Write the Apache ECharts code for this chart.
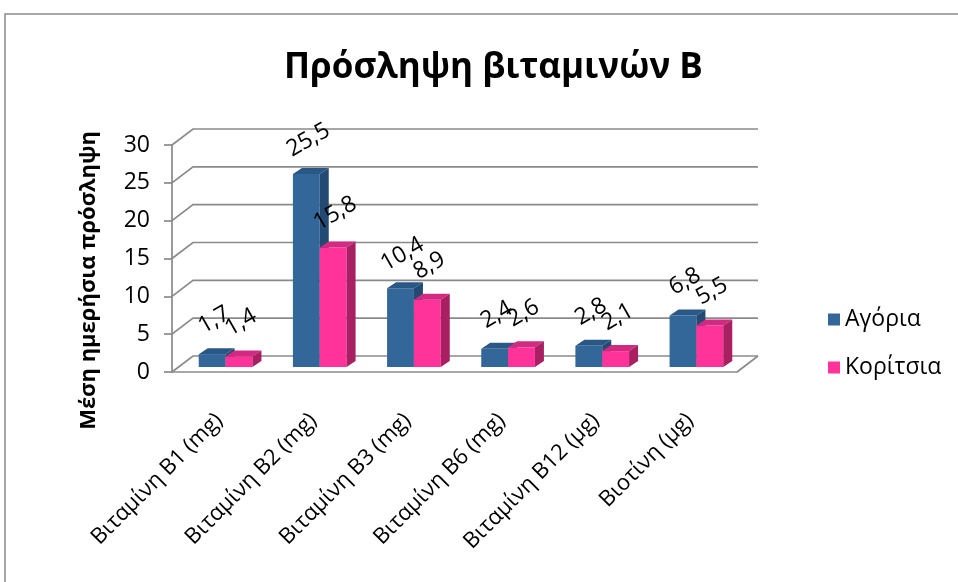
<!DOCTYPE html>
<html>
<head>
<meta charset="utf-8">
<script src="https://cdn.jsdelivr.net/npm/echarts@6/dist/echarts.min.js"></script>
<style>
  html, body { margin: 0; padding: 0; background: #fff; }
  #chart { width: 958px; height: 582px; }
</style>
</head>
<body>
<div id="chart"></div>
<script>
// Average daily intake of B vitamins, boys vs girls
const categories = ['Βιταμίνη B1 (mg)', 'Βιταμίνη B2 (mg)', 'Βιταμίνη B3 (mg)', 'Βιταμίνη B6 (mg)', 'Βιταμίνη B12 (μg)', 'Βιοτίνη (μg)'];
const boys = [1.7, 25.5, 10.4, 2.4, 2.8, 6.8];
const girls = [1.4, 15.8, 8.9, 2.6, 2.1, 5.5];
const seriesNames = ['Αγόρια', 'Κορίτσια'];
const yTicks = [0, 5, 10, 15, 20, 25, 30];

const FONT = '"Open Sans", "Noto Sans", sans-serif';

// pseudo-3D geometry (pixels)
const WALL_DX = 21, WALL_DY = -16;     // depth of the back wall
const BAR_DX = 6.5, BAR_DY = -5;       // bars sit a little behind the front edge
const DEPTH_DX = 9, DEPTH_DY = -6;     // bar thickness
const BAR_FRAC = 0.285;                // bar width as share of a category band
const GRID_COLOR = '#8a8a8a';

const palette = [
  { front: '#336699', top: '#2a5886', side: '#234a72' },
  { front: '#ff3399', top: '#d12a80', side: '#a81f62' }
];

function fmt(v) { return String(v).replace('.', ','); }

function wallRenderer(params, api) {
  const cs = params.coordSys;
  const v = api.value(1);
  const y = api.coord([0, v])[1];
  const x0 = cs.x, x1 = cs.x + cs.width;
  const children = [{
    type: 'polyline',
    shape: { points: [[x0, y], [x0 + WALL_DX, y + WALL_DY], [x1 + WALL_DX, y + WALL_DY]] },
    style: { stroke: GRID_COLOR, lineWidth: 1.7, fill: null }
  }];
  if (v === 0) {
    children.push({
      type: 'line',
      shape: { x1: x1, y1: y, x2: x1 + WALL_DX, y2: y + WALL_DY },
      style: { stroke: GRID_COLOR, lineWidth: 1.7 }
    });
  }
  return { type: 'group', children: children };
}

function barRenderer(k) {
  const c = palette[k];
  return function (params, api) {
    const idx = api.value(0), val = api.value(1);
    const base = api.coord([idx, 0]);
    const topP = api.coord([idx, val]);
    const band = api.size([1, 0])[0];
    const w = band * BAR_FRAC;
    const cx = base[0] + BAR_DX;
    const xa = k === 0 ? cx - w : cx;
    const xb = xa + w;
    const yb = base[1] + BAR_DY;
    const yt = topP[1] + BAR_DY;
    return {
      type: 'group',
      children: [
        { type: 'polygon', shape: { points: [[xa, yb], [xb, yb], [xb, yt], [xa, yt]] }, style: { fill: c.front } },
        { type: 'polygon', shape: { points: [[xa, yt], [xb, yt], [xb + DEPTH_DX, yt + DEPTH_DY], [xa + DEPTH_DX, yt + DEPTH_DY]] }, style: { fill: c.top } },
        { type: 'polygon', shape: { points: [[xb, yb], [xb + DEPTH_DX, yb + DEPTH_DY], [xb + DEPTH_DX, yt + DEPTH_DY], [xb, yt]] }, style: { fill: c.side } },
        {
          type: 'text', x: (xa + xb) / 2 + 2, y: yt - 34, rotation: Math.PI / 6, z2: 10,
          style: { text: fmt(val), x: 0, y: 0, align: 'center', verticalAlign: 'middle', font: '23px ' + FONT, fill: '#000' }
        }
      ]
    };
  };
}

const chart = echarts.init(document.getElementById('chart'), null, { renderer: 'canvas' });

chart.setOption({
  animation: false,
  backgroundColor: '#fff',
  title: {
    text: 'Πρόσληψη βιταμινών B',
    left: 279, top: 46,
    textStyle: { fontFamily: FONT, fontSize: 35, fontWeight: 'bold', color: '#000' }
  },
  graphic: [{
    type: 'rect', shape: { x: 5, y: 14, width: 1000, height: 620 },
    style: { fill: null, stroke: '#8a8a8a', lineWidth: 1.5 }, silent: true, z: -10
  }],
  legend: {
    data: seriesNames,
    orient: 'vertical', left: 823, top: 303, itemGap: 25,
    icon: 'rect', itemWidth: 12, itemHeight: 12,
    textStyle: { fontFamily: FONT, fontSize: 23, color: '#000' }
  },
  grid: { left: 172, right: 221, top: 145, bottom: 210, containLabel: false },
  xAxis: {
    type: 'category', data: categories,
    axisLine: { show: true, lineStyle: { color: GRID_COLOR, width: 1.7 } },
    axisTick: { show: false },
    axisLabel: { rotate: 45, margin: 45, fontFamily: FONT, fontSize: 22, color: '#000', interval: 0 },
    splitLine: { show: false }
  },
  yAxis: {
    type: 'value', min: 0, max: 30, interval: 5,
    name: 'Μέση ημερήσια πρόσληψη', nameLocation: 'middle', nameRotate: 90, nameGap: 72,
    nameTextStyle: { fontFamily: FONT, fontSize: 22, fontWeight: 'bold', color: '#000', padding: [0, 44, 0, 0] },
    axisLine: { show: true, lineStyle: { color: GRID_COLOR, width: 1.7 } },
    axisTick: { show: true, length: 8, lineStyle: { color: GRID_COLOR, width: 1.7 } },
    axisLabel: { margin: 22, fontFamily: FONT, fontSize: 23, color: '#000' },
    splitLine: { show: false }
  },
  series: [
    {
      type: 'custom', name: '__wall', silent: true, z: 1,
      renderItem: wallRenderer,
      data: yTicks.map(v => [0, v])
    },
    {
      type: 'custom', name: seriesNames[0], z: 2,
      itemStyle: { color: palette[0].front },
      renderItem: barRenderer(0),
      data: boys.map((v, i) => [i, v])
    },
    {
      type: 'custom', name: seriesNames[1], z: 3,
      itemStyle: { color: palette[1].front },
      renderItem: barRenderer(1),
      data: girls.map((v, i) => [i, v])
    }
  ]
});
</script>
</body>
</html>
